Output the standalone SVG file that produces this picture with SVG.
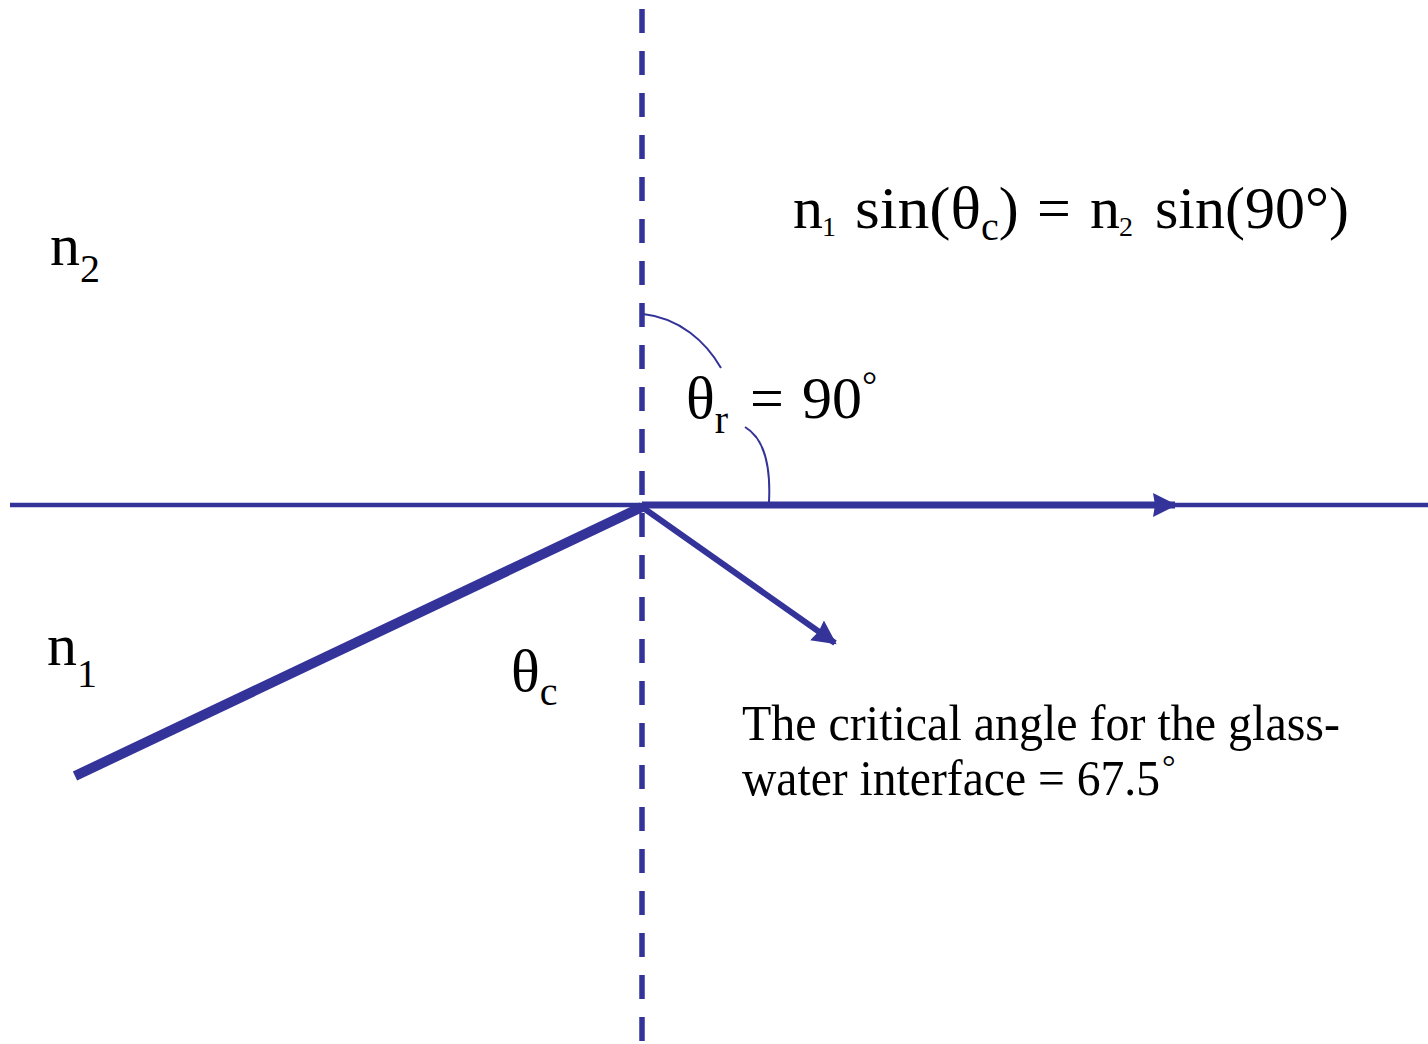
<svg xmlns="http://www.w3.org/2000/svg" width="1428" height="1044" viewBox="0 0 1428 1044">
<style>
.t{font-family:"Liberation Serif","Times New Roman",serif;fill:#000}
.ln{stroke:#333399;fill:none}
</style>
<defs>
<marker id="ah" markerUnits="userSpaceOnUse" markerWidth="26" markerHeight="26" refX="22" refY="12" orient="auto">
<path d="M0,0 L24,12 L0,24 L2,12 Z" fill="#333399"/>
</marker>
</defs>
<rect width="1428" height="1044" fill="#fff"/>
<g id="connectors">
<line id="normal" class="ln" x1="642" y1="9" x2="642" y2="1044" stroke-width="5.5" stroke-dasharray="24 18"/>
<line id="interface" class="ln" x1="10" y1="505" x2="1428" y2="505" stroke-width="4.5"/>
<line id="incident" class="ln" x1="75" y1="776" x2="642" y2="507" stroke-width="10"/>
<line id="refracted" class="ln" x1="642" y1="505" x2="1175" y2="505" stroke-width="7" marker-end="url(#ah)"/>
<line id="reflected" class="ln" x1="642" y1="507" x2="835" y2="643" stroke-width="6" marker-end="url(#ah)"/>
<path id="arc1" class="ln" stroke-width="2" d="M643,314 C680,318 706,342 721,368"/>
<path id="arc2" class="ln" stroke-width="2" d="M745,427 C762,437 771,462 769,502"/>
</g>
<g id="equation">
<text class="t" font-size="60" y="228"><tspan x="793">n</tspan><tspan x="822" font-size="28" dy="8">1</tspan><tspan x="855" dy="-8" textLength="126" lengthAdjust="spacingAndGlyphs">sin(θ</tspan><tspan font-size="40" dy="12">c</tspan><tspan dy="-12">)</tspan><tspan x="1037">=</tspan><tspan x="1090">n</tspan><tspan x="1119" font-size="28" dy="8">2</tspan><tspan x="1155" dy="-8">sin(90°)</tspan></text>
</g>
<g id="label-n2"><text class="t" font-size="60" x="50" y="265">n<tspan font-size="40" dy="17">2</tspan></text></g>
<g id="label-n1"><text class="t" font-size="60" x="47" y="665">n<tspan font-size="40" dy="22">1</tspan></text></g>
<g id="label-thetac"><text class="t" font-size="60" x="511" y="691">θ<tspan font-size="40" dy="14">c</tspan></text></g>
<g id="label-thetar"><text class="t" font-size="60" x="686" y="418">θ<tspan font-size="40" dy="15">r</tspan><tspan x="750" dy="-15">=</tspan><tspan x="802">90</tspan><tspan x="862" font-size="38" dy="-20">°</tspan></text></g>
<g id="note">
<text class="t" font-size="50" x="742" y="740" textLength="598" lengthAdjust="spacingAndGlyphs">The critical angle for the glass-</text>
<text class="t" font-size="50" x="742" y="795"><tspan textLength="418" lengthAdjust="spacingAndGlyphs">water interface = 67.5</tspan><tspan x="1162" font-size="34" dy="-17">°</tspan></text>
</g>
</svg>
